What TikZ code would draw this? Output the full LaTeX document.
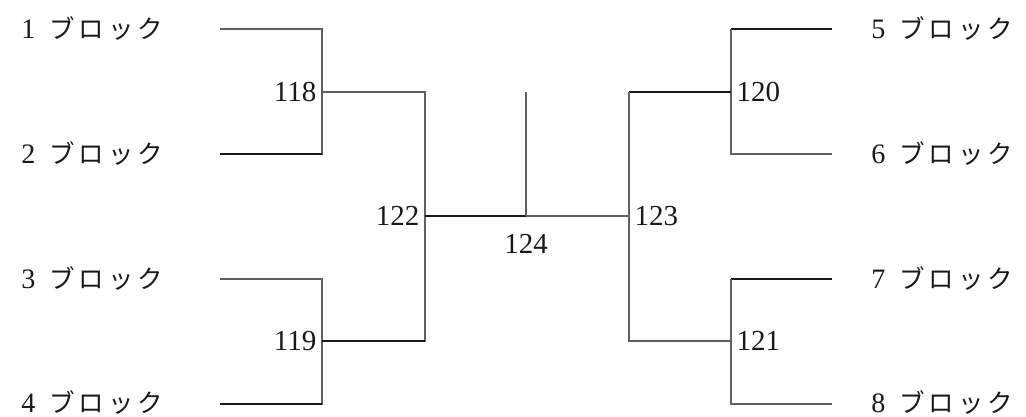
\documentclass[tikz,border=0pt]{standalone}
\usepackage{fontspec}
\setmainfont{Liberation Serif}
\newfontfamily\jpfont{Noto Sans CJK JP}
\usetikzlibrary{positioning}
\definecolor{thincolor}{RGB}{95,95,95}
\definecolor{thickcolor}{RGB}{25,25,25}
\tikzset{
    thinline/.style={draw=thincolor, line width=0.6pt},
    thickline/.style={draw=thickcolor, line width=1.2pt},
    blocklabel/.style={font=\fontsize{16}{19}\selectfont, inner sep=0pt, text=thickcolor, anchor=base west},
    numlabel/.style={font=\fontsize{16.5}{19}\selectfont, inner sep=3pt, text=thickcolor}
}
\newcommand{\blk}[1]{#1\hspace{8pt}{\jpfont\fontsize{14.5}{18}\selectfont ブ\hspace{2.2pt}ロ\hspace{2.2pt}ッ\hspace{2.2pt}ク}}

\begin{document}
\begin{tikzpicture}[x=0.02cm, y=-0.02cm]
    \useasboundingbox (0,0) rectangle (1026,416);

    % block names
    \node[blocklabel] (b1) at (21,38)  {\blk{1}};
    \node[blocklabel] (b2) at (21,163) {\blk{2}};
    \node[blocklabel] (b3) at (21,288) {\blk{3}};
    \node[blocklabel] (b4) at (21,412) {\blk{4}};
    \node[blocklabel] (b5) at (871,38)  {\blk{5}};
    \node[blocklabel] (b6) at (871,163) {\blk{6}};
    \node[blocklabel] (b7) at (871,288) {\blk{7}};
    \node[blocklabel] (b8) at (871,412) {\blk{8}};

    % line ends
    \coordinate (s1) at (220,29);  \coordinate (s2) at (220,154);
    \coordinate (s3) at (220,279); \coordinate (s4) at (220,404);
    \coordinate (s5) at (832,29);  \coordinate (s6) at (832,154);
    \coordinate (s7) at (832,279); \coordinate (s8) at (832,404);

    % joints
    \coordinate (j118) at (322,92);  \coordinate (j119) at (322,341);
    \coordinate (j120) at (731,92);  \coordinate (j121) at (731,341);
    \coordinate (j122) at (425,216); \coordinate (j123) at (629,216);
    \coordinate (j124) at (526,216); \coordinate (top124) at (526,92);

    % match numbers
    \node[numlabel, anchor=east]  (n118) at (j118) {118};
    \node[numlabel, anchor=east]  (n119) at (j119) {119};
    \node[numlabel, anchor=west]  (n120) at (j120) {120};
    \node[numlabel, anchor=west]  (n121) at (j121) {121};
    \node[numlabel, anchor=east]  (n122) at (j122) {122};
    \node[numlabel, anchor=west]  (n123) at (j123) {123};
    \node[numlabel, below=7pt of j124] (n124) {124};

    % left half
    \draw[thinline]  (s1) -| (j118);
    \draw[thinline]  (j118) |- (s2);
    \draw[thickline] (s2) -- (s2 -| j118);
    \draw[thinline]  (s3) -| (j119);
    \draw[thinline]  (j119) |- (s4);
    \draw[thickline] (s4) -- (s4 -| j119);
    \draw[thinline]  (j118) -| (j122);
    \draw[thinline]  (j122) |- (j119);
    \draw[thickline] (j119) -- (j119 -| j122);

    % final
    \draw[thickline] (j122) -- (j124);
    \draw[thinline]  (j124) -- (j123);
    \draw[thinline]  (top124) -- (j124);

    % right half
    \draw[thickline] (s5) -- (s5 -| j120);
    \draw[thinline]  (s5 -| j120) |- (s6);
    \draw[thickline] (s7) -- (s7 -| j121);
    \draw[thinline]  (s7 -| j121) |- (s8);
    \draw[thickline] (j120) -- (j120 -| j123);
    \draw[thinline]  (j120 -| j123) |- (j121);

\end{tikzpicture}
\end{document}
